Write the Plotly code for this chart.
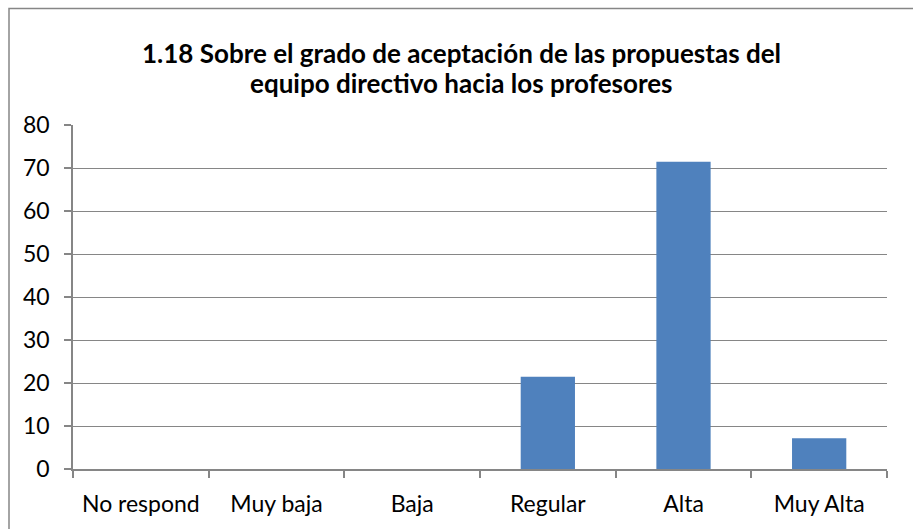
import plotly.graph_objects as go

categories = ["No respond", "Muy baja", "Baja", "Regular", "Alta", "Muy Alta"]
values = [0, 0, 0, 21.43, 71.43, 7.14]
y_ticks = [0, 10, 20, 30, 40, 50, 60, 70, 80]

title_lines = ["1.18 Sobre el grado de aceptación de las propuestas del",
               "equipo directivo hacia los profesores"]

FONT = "Lato, Open Sans, sans-serif"
W, H = 913, 529
L, R, T, B = 73, 26, 125, 57
PW, PH = W - L - R, H - T - B

fig = go.Figure(go.Bar(x=categories, y=values, marker=dict(color="#4F81BD", line=dict(width=0))))

annotations = []
for line, ypix in zip(title_lines, [52, 83]):
    annotations.append(dict(
        text="<b>" + line + "</b>", xref="paper", yref="paper",
        x=(461 - L) / PW, y=(H - B - ypix) / PH, xanchor="center", yanchor="middle",
        showarrow=False, font=dict(family=FONT, size=26, color="black"),
    ))

fig.update_layout(
    width=W, height=H,
    margin=dict(l=L, r=R, t=T, b=B),
    paper_bgcolor="white", plot_bgcolor="white",
    bargap=0.6,
    showlegend=False,
    font=dict(family=FONT, size=23, color="black"),
    annotations=annotations,
    shapes=[dict(type="rect", xref="paper", yref="paper",
                 x0=(9 - L) / PW, x1=(W + 5 - L) / PW, y0=(H - B - (H + 5)) / PH, y1=(H - B - 7.5) / PH,
                 line=dict(color="#868686", width=1.5), fillcolor="rgba(0,0,0,0)", layer="below")],
)
fig.update_xaxes(
    type="category", showline=True, linecolor="#868686", linewidth=1.5,
    ticks="outside", tickson="boundaries", ticklen=7, tickcolor="#868686", tickwidth=1.5,
    showgrid=False, tickfont=dict(size=23), ticklabelstandoff=14,
)
fig.update_yaxes(
    range=[0, 80], tickvals=y_ticks, showline=True, linecolor="#868686", linewidth=1.5,
    ticks="outside", ticklen=7, tickcolor="#868686", tickwidth=1.5,
    showgrid=True, gridcolor="#868686", gridwidth=1, zeroline=False,
    tickfont=dict(size=23), ticklabelstandoff=10,
)

fig.write_html("out.html", config={"displayModeBar": False},
               post_script="document.body.style.margin='0';document.body.style.overflow='hidden';")
